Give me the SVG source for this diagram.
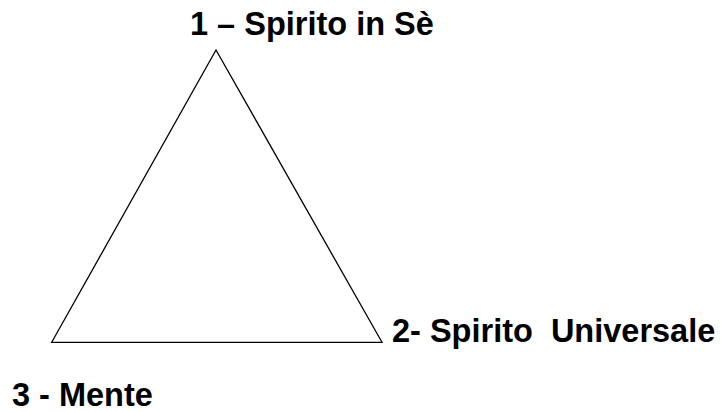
<svg xmlns="http://www.w3.org/2000/svg" width="722" height="412" viewBox="0 0 722 412">
<style>
.lbl{font-family:"Liberation Sans",Arial,sans-serif;font-weight:bold;font-size:32.5px;fill:#000;white-space:pre}
.edge{fill:none;stroke:#000;stroke-width:1.3}
</style>
<rect width="722" height="412" fill="#fff"/>
<g id="connectors">
<path class="edge" d="M216,50 L382,342.3 L51.7,342.3 Z"/>
</g>
<g id="node1"><text class="lbl" x="190" y="35">1 – Spirito in Sè</text></g>
<g id="node2"><text class="lbl" x="392" y="342" xml:space="preserve">2- Spirito  Universale</text></g>
<g id="node3"><text class="lbl" x="12" y="406">3 - Mente</text></g>
</svg>
